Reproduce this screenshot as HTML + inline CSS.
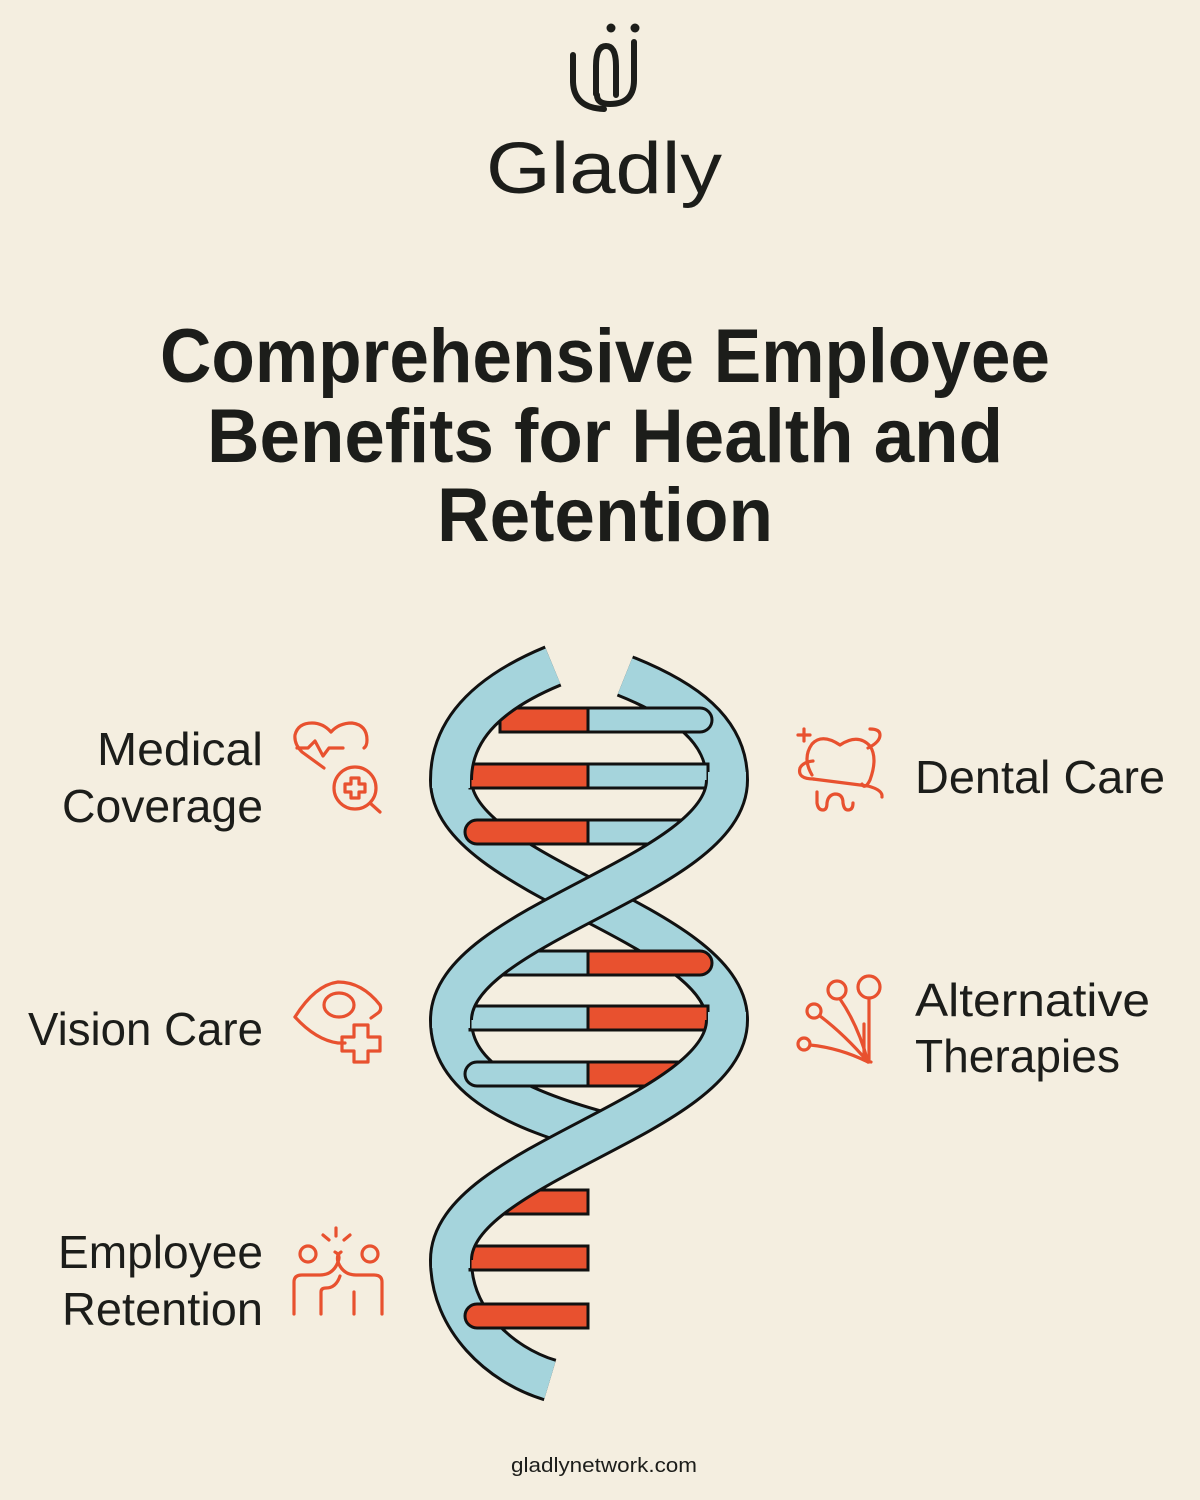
<!DOCTYPE html>
<html><head><meta charset="utf-8"><style>
html,body{margin:0;padding:0;background:#f4eee0;}
svg{display:block}
text{font-family:"Liberation Sans",sans-serif;fill:#1c1d1a}
</style></head><body>
<svg width="1200" height="1500" viewBox="0 0 1200 1500" xmlns="http://www.w3.org/2000/svg">
<rect width="1200" height="1500" fill="#f4eee0"/>
<g fill="none" stroke="#1c1d1a" stroke-width="6" stroke-linecap="round">
<path d="M573,55 V82 Q574,108 604,109"/>
<path d="M596,94 V66 Q596,46 606,46 Q616,46 616,66 V95"/>
<path d="M634,42 V80 Q634,104 610,104 Q597,104 597,95"/>
</g>
<circle cx="611" cy="28" r="4.5" fill="#1c1d1a"/>
<circle cx="635" cy="28" r="4.5" fill="#1c1d1a"/>
<text x="486" y="193" font-size="72" textLength="236" lengthAdjust="spacingAndGlyphs">Gladly</text>
<g font-weight="bold" font-size="76">
<text x="160" y="382" textLength="890" lengthAdjust="spacingAndGlyphs">Comprehensive Employee</text>
<text x="207" y="462" textLength="796" lengthAdjust="spacingAndGlyphs">Benefits for Health and</text>
<text x="437" y="541" textLength="336" lengthAdjust="spacingAndGlyphs">Retention</text>
</g>
<g font-size="46">
<text x="97" y="765" textLength="166" lengthAdjust="spacingAndGlyphs">Medical</text>
<text x="62" y="822" textLength="201" lengthAdjust="spacingAndGlyphs">Coverage</text>
<text x="28" y="1045" textLength="235" lengthAdjust="spacingAndGlyphs">Vision Care</text>
<text x="58" y="1268" textLength="205" lengthAdjust="spacingAndGlyphs">Employee</text>
<text x="62" y="1325" textLength="201" lengthAdjust="spacingAndGlyphs">Retention</text>
<text x="915" y="793" textLength="250" lengthAdjust="spacingAndGlyphs">Dental Care</text>
<text x="915" y="1016" textLength="235" lengthAdjust="spacingAndGlyphs">Alternative</text>
<text x="915" y="1072" textLength="205" lengthAdjust="spacingAndGlyphs">Therapies</text>
</g>
<text x="511" y="1472" font-size="20" textLength="186" lengthAdjust="spacingAndGlyphs">gladlynetwork.com</text>
<g fill="none" stroke="#e8512f" stroke-width="3.2" stroke-linecap="round" stroke-linejoin="round">
<path d="M324,768 L302,752 Q294,744 295,735 Q298,723 312,723 Q323,723 331,732 Q339,723 352,723 Q367,725 367,740 Q367,746 364,748"/>
<path d="M297,748 H308 L315,741 L323,756 L329,748 H343"/>
<circle cx="355" cy="788" r="21"/>
<path d="M351,778 h8 v6 h6 v8 h-6 v6 h-8 v-6 h-6 v-8 h6 z"/>
<path d="M370,803 L380,812"/>
<path d="M295,1017 Q315,985 338,982 Q362,982 380,1005 Q382,1010 378,1013 L371,1018"/>
<path d="M295,1017 Q316,1040 338,1043 L345,1043"/>
<ellipse cx="339" cy="1005" rx="15" ry="12"/>
<path d="M354,1025 h14 v12 h12 v14 h-12 v11 h-14 v-11 h-12 v-14 h12 z"/>
<circle cx="308" cy="1254" r="8"/><circle cx="370" cy="1254" r="8"/>
<path d="M294,1314 V1282 Q294,1275 302,1275 H320 Q333,1275 338,1262 Q341,1255 335,1252"/>
<path d="M321,1314 V1292 Q321,1288 326,1288 Q336,1288 340,1276"/>
<path d="M382,1314 V1282 Q382,1275 374,1275 H356 Q343,1275 338,1262 Q336,1255 341,1252"/>
<path d="M354,1314 V1292"/>
<path d="M336,1228 V1236 M323,1235 L329,1240 M350,1235 L344,1240"/>
<path d="M798,735 h12 M804,729 v12"/>
<path d="M812,775 Q802,758 812,744 Q822,733 840,745 Q858,733 870,746 Q878,758 870,780 Q865,790 862,784"/>
<path d="M814,779 Q797,779 800,768 Q803,762 813,761"/>
<path d="M813,779 Q845,783 868,786 Q883,790 882,797"/>
<path d="M868,748 Q880,742 880,735 Q880,729 870,729"/>
<path d="M817,792 V803 Q818,810 823,810 Q827,810 827,803 Q828,795 835,794 Q843,794 843,803 Q844,810 848,810 Q853,810 853,803"/>
<circle cx="804" cy="1044" r="6"/><circle cx="814" cy="1011" r="7"/><circle cx="837" cy="990" r="9"/><circle cx="869" cy="987" r="11"/>
<path d="M810,1045 Q840,1048 868,1062"/>
<path d="M820,1016 Q845,1035 868,1062"/>
<path d="M840,999 Q858,1025 868,1062"/>
<path d="M869,998 V1062 M864,1024 V1060 L871,1062"/>
</g>
<g fill="none" stroke-linecap="butt">
<g stroke="#111" stroke-width="44">
<path d="M451,780 C451,876 727,924 727,1020"/>
<path d="M625,676 C685,700 727,730 727,780"/>
<path d="M451,1020 C451,1080 520,1110 600,1132"/>
<path d="M451,1260 C451,1320 500,1365 550,1380"/>
</g>
<g stroke="#a5d4dc" stroke-width="38">
<path d="M451,780 C451,876 727,924 727,1020"/>
<path d="M625,676 C685,700 727,730 727,780"/>
<path d="M451,1020 C451,1080 520,1110 600,1132"/>
<path d="M451,1260 C451,1320 500,1365 550,1380"/>
</g>
</g>
<g stroke="#111" stroke-width="3">
<path d="M500,708 H588 V732 H500 Z" fill="#e8512f"/>
<path d="M588,708 H700 A12,12 0 0 1 700,732 H588 Z" fill="#a5d4dc"/>
<path d="M470,764 H588 V788 H470 Z" fill="#e8512f"/>
<path d="M588,764 H708 V788 H588 Z" fill="#a5d4dc"/>
<path d="M477,820 H588 V844 H477 A12,12 0 0 1 477,820 Z" fill="#e8512f"/>
<path d="M588,820 H700 V844 H588 Z" fill="#a5d4dc"/>
<path d="M500,951 H588 V975 H500 Z" fill="#a5d4dc"/>
<path d="M588,951 H700 A12,12 0 0 1 700,975 H588 Z" fill="#e8512f"/>
<path d="M470,1006 H588 V1030 H470 Z" fill="#a5d4dc"/>
<path d="M588,1006 H708 V1030 H588 Z" fill="#e8512f"/>
<path d="M477,1062 H588 V1086 H477 A12,12 0 0 1 477,1062 Z" fill="#a5d4dc"/>
<path d="M588,1062 H700 V1086 H588 Z" fill="#e8512f"/>
<path d="M500,1190 H588 V1214 H500 Z" fill="#e8512f"/>
<path d="M470,1246 H588 V1270 H470 Z" fill="#e8512f"/>
<path d="M477,1304 H588 V1328 H477 A12,12 0 0 1 477,1304 Z" fill="#e8512f"/>
</g>
<g fill="none" stroke-linecap="butt">
<g stroke="#111" stroke-width="44">
<path d="M553,666 C495,690 451,725 451,780"/>
<path d="M727,780 C727,876 451,924 451,1020"/>
<path d="M727,1020 C727,1116 451,1164 451,1260"/>
</g>
<g stroke="#a5d4dc" stroke-width="38">
<path d="M553,666 C495,690 451,725 451,780 L451,788"/>
<path d="M727,772 L727,780 C727,876 451,924 451,1020 L451,1028"/>
<path d="M727,1012 L727,1020 C727,1116 451,1164 451,1260 L451,1268"/>
</g>
</g>
</svg>
</body></html>
